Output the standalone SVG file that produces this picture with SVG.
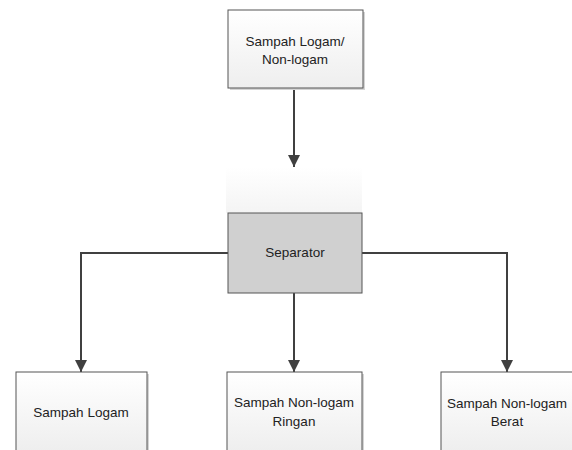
<svg xmlns="http://www.w3.org/2000/svg" width="572" height="450" viewBox="0 0 572 450">
<defs>
<linearGradient id="boxfill" x1="0" y1="0" x2="0" y2="1">
<stop offset="0" stop-color="#ffffff"/>
<stop offset="1" stop-color="#eeeeee"/>
</linearGradient>
<linearGradient id="fade" x1="0" y1="0" x2="0" y2="1">
<stop offset="0" stop-color="#ffffff"/>
<stop offset="1" stop-color="#f4f4f4"/>
</linearGradient>
<marker id="arrow" viewBox="0 0 10 10" refX="10" refY="5" markerWidth="6" markerHeight="6" orient="auto" markerUnits="strokeWidth">
<path d="M0,0 L10,5 L0,10 z" fill="#404040"/>
</marker>
<style>
.box{fill:url(#boxfill);stroke:#555555;stroke-width:1}
.shadow{fill:#d4d4d4}
.sep{fill:#d0d0d0;stroke:#555555;stroke-width:1}
.lbl{font-family:"Liberation Sans",Arial,sans-serif;font-size:13.5px;fill:#222222;text-anchor:middle}
.conn{fill:none;stroke:#404040;stroke-width:2}
</style>
</defs>
<rect x="0" y="0" width="572" height="450" fill="#ffffff"/>
<rect x="226" y="167" width="136" height="46" fill="url(#fade)"/>
<g id="connectors">
<path class="conn" d="M294,88 V167" marker-end="url(#arrow)"/>
<path class="conn" d="M228,253 H81 V372" marker-end="url(#arrow)"/>
<path class="conn" d="M294,293 V372" marker-end="url(#arrow)"/>
<path class="conn" d="M362,253 H507 V372" marker-end="url(#arrow)"/>
</g>
<g id="node-input">
<rect class="shadow" x="230" y="12" width="135" height="78"/>
<rect class="box" x="228" y="10" width="135" height="78"/>
<text class="lbl" x="295" y="46">Sampah Logam/</text>
<text class="lbl" x="295" y="64">Non-logam</text>
</g>
<g id="node-separator">
<rect class="sep" x="228" y="213" width="134" height="80"/>
<text class="lbl" x="295" y="257">Separator</text>
</g>
<g id="node-logam">
<rect class="shadow" x="18" y="374" width="131" height="80"/>
<rect class="box" x="16" y="372" width="131" height="80"/>
<text class="lbl" x="81" y="417">Sampah Logam</text>
</g>
<g id="node-ringan">
<rect class="shadow" x="229" y="374" width="135" height="80"/>
<rect class="box" x="227" y="372" width="135" height="80"/>
<text class="lbl" x="294" y="407">Sampah Non-logam</text>
<text class="lbl" x="294" y="426">Ringan</text>
</g>
<g id="node-berat">
<rect class="shadow" x="443" y="374" width="135" height="80"/>
<rect class="box" x="441" y="372" width="135" height="80"/>
<text class="lbl" x="507" y="408">Sampah Non-logam</text>
<text class="lbl" x="507" y="426">Berat</text>
</g>
</svg>
